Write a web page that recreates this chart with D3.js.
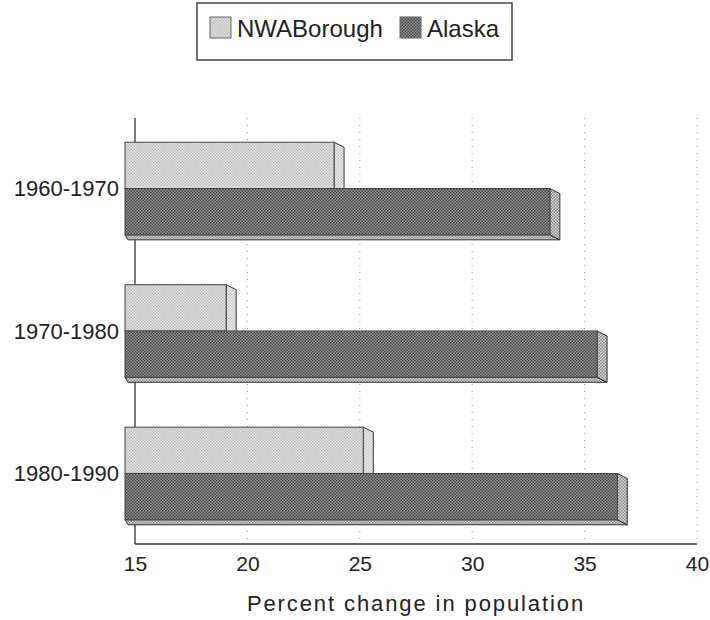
<!DOCTYPE html>
<html>
<head>
<meta charset="utf-8">
<script src="https://cdn.jsdelivr.net/npm/d3@7"></script>
<style>
  body { margin: 0; background: #fff; }
  text { font-family: "Liberation Sans", Arial, sans-serif; fill: #222; }
</style>
</head>
<body>
<div id="chart"></div>
<script>
const periods = ["1960-1970", "1970-1980", "1980-1990"];
const seriesNames = ["NWABorough", "Alaska"];
const nwaValues = [24.3, 19.5, 25.6];
const alaskaValues = [33.9, 36.0, 36.9];
const xTicks = [15, 20, 25, 30, 35, 40];

const width = 710, height = 620;
const margin = { top: 118, right: 13, bottom: 76, left: 135 };
const depthX = 10, depthY = 5;

const svg = d3.select("#chart")
              .append("svg")
              .attr("width", width)
              .attr("height", height);

// patterns to mimic the halftone fills
const defs = svg.append("defs");
function pattern(id, bg, dot) {
    const p = defs.append("pattern")
                  .attr("id", id)
                  .attr("width", 3)
                  .attr("height", 3)
                  .attr("patternUnits", "userSpaceOnUse");
    p.append("rect").attr("width", 3).attr("height", 3).attr("fill", bg);
    p.append("rect").attr("width", 1.5).attr("height", 1.5).attr("fill", dot);
    p.append("rect").attr("x", 1.5).attr("y", 1.5).attr("width", 1.5).attr("height", 1.5).attr("fill", dot);
}
pattern("nwaFront", "#e4e4e4", "#bcbcbc");
pattern("nwaSide", "#eeeeee", "#c8c8c8");
pattern("akFront", "#959595", "#454545");
pattern("akSide", "#d6d6d6", "#8a8a8a");

const fills = {
    NWABorough: { front: "url(#nwaFront)", side: "url(#nwaSide)", bottom: "url(#nwaSide)" },
    Alaska: { front: "url(#akFront)", side: "url(#akSide)", bottom: "url(#akSide)" }
};

const x = d3.scaleLinear()
            .domain([15, 40])
            .range([margin.left, width - margin.right]);

const y = d3.scaleBand()
            .domain(periods)
            .range([margin.top, height - margin.bottom])
            .paddingInner(0.35)
            .paddingOuter(0.17);

const ySub = d3.scaleBand()
               .domain(seriesNames)
               .range([0, y.bandwidth()]);

const data = [];
periods.forEach((p, i) => {
    data.push({ period: p, series: "NWABorough", value: nwaValues[i] });
    data.push({ period: p, series: "Alaska", value: alaskaValues[i] });
});

// dotted gridlines
svg.append("g")
   .selectAll("line")
   .data(xTicks.slice(1))
   .join("line")
   .attr("x1", d => x(d))
   .attr("x2", d => x(d))
   .attr("y1", margin.top)
   .attr("y2", height - margin.bottom)
   .attr("stroke", "#999")
   .attr("stroke-width", 1)
   .attr("stroke-dasharray", "1,6");

// axes lines
svg.append("line")
   .attr("x1", x(15)).attr("x2", x(15))
   .attr("y1", margin.top).attr("y2", height - margin.bottom)
   .attr("stroke", "#333").attr("stroke-width", 1.3);
svg.append("line")
   .attr("x1", x(15)).attr("x2", x(40))
   .attr("y1", height - margin.bottom).attr("y2", height - margin.bottom)
   .attr("stroke", "#333").attr("stroke-width", 1.3);

// X tick labels
const xAxis = svg.append("g")
   .attr("transform", `translate(0, ${height - margin.bottom})`)
   .call(d3.axisBottom(x).tickValues(xTicks).tickSize(0).tickPadding(12));
xAxis.select(".domain").remove();
xAxis.selectAll("text")
     .style("font-family", "Liberation Sans, Arial, sans-serif")
     .style("font-size", "21px")
     .attr("fill", "#222");

svg.append("text")
   .attr("x", (x(15) + x(40)) / 2)
   .attr("y", 611)
   .attr("text-anchor", "middle")
   .style("font-size", "22px")
   .style("letter-spacing", "1.9px")
   .text("Percent change in population");

// Y category labels
svg.append("g")
   .selectAll("text")
   .data(periods)
   .join("text")
   .attr("x", 119)
   .attr("y", d => y(d) + y.bandwidth() / 2)
   .attr("dy", "0.35em")
   .attr("text-anchor", "end")
   .style("font-size", "22px")
   .text(d => d);

// 3D bars
const bars = svg.append("g")
                .selectAll("g")
                .data(data)
                .join("g");

bars.each(function(d) {
    const g = d3.select(this);
    const x0 = x(15) - depthX;
    const x1 = x(d.value) - depthX;
    const y0 = y(d.period) + ySub(d.series);
    const h = ySub.bandwidth();
    const f = fills[d.series];

    g.append("polygon")
     .attr("points", [[x0, y0 + h], [x1, y0 + h], [x1 + depthX, y0 + h + depthY], [x0 + 3, y0 + h + depthY]].join(" "))
     .attr("fill", f.bottom)
     .attr("stroke", "#333")
     .attr("stroke-width", 1);

    g.append("polygon")
     .attr("points", [[x1, y0], [x1 + depthX, y0 + depthY], [x1 + depthX, y0 + h + depthY], [x1, y0 + h]].join(" "))
     .attr("fill", f.side)
     .attr("stroke", "#333")
     .attr("stroke-width", 1);

    g.append("rect")
     .attr("x", x0)
     .attr("y", y0)
     .attr("width", x1 - x0)
     .attr("height", h)
     .attr("fill", f.front)
     .attr("stroke", "#444")
     .attr("stroke-width", 1);
});

// Legend
const legend = svg.append("g");
legend.append("rect")
      .attr("x", 197).attr("y", 3)
      .attr("width", 315).attr("height", 57)
      .attr("fill", "#fff")
      .attr("stroke", "#444")
      .attr("stroke-width", 1.5);

const legendX = [210, 400];
const items = legend.selectAll("g.item")
                    .data(seriesNames)
                    .join("g")
                    .attr("class", "item")
                    .attr("transform", (d, i) => `translate(${legendX[i]}, 17)`);

items.append("rect")
     .attr("width", 21)
     .attr("height", 21)
     .attr("fill", d => fills[d].front)
     .attr("stroke", "#666")
     .attr("stroke-width", 1);

items.append("text")
     .attr("x", 27)
     .attr("y", 20)
     .style("font-size", "24px")
     .text(d => d);
</script>
</body>
</html>
